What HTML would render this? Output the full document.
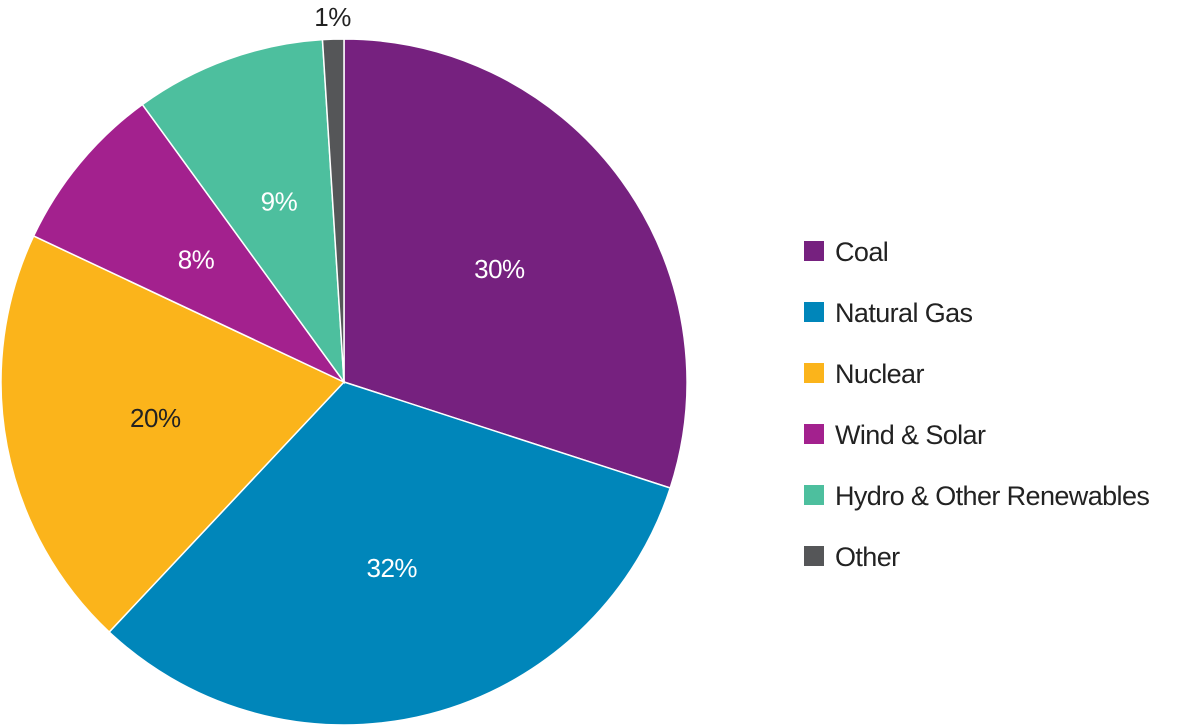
<!DOCTYPE html>
<html><head><meta charset="utf-8"><style>
html,body{margin:0;padding:0;background:#fff;}
svg{display:block;font-family:"Liberation Sans",Arial,sans-serif;}
</style></head><body>
<svg id="chart" width="1200" height="725" viewBox="0 0 1200 725" xmlns="http://www.w3.org/2000/svg"></svg>
<script>
const categories = ["Coal","Natural Gas","Nuclear","Wind & Solar","Hydro & Other Renewables","Other"];
const values = [30, 32, 20, 8, 9, 1];
const valueLabels = ["30%","32%","20%","8%","9%","1%"];
const colors = ["#76217f","#0086ba","#fbb41b","#a3218e","#4dbf9e","#555658"];

const NS = "http://www.w3.org/2000/svg";
const svg = document.getElementById("chart");
const cx = 344, cy = 382, R = 343;
const total = values.reduce((a,b)=>a+b,0);
function pt(angDeg, r){ const a = angDeg*Math.PI/180; return [cx + r*Math.sin(a), cy - r*Math.cos(a)]; }

let start = 0;
values.forEach((v,i)=>{
  const sweep = v/total*360;
  const end = start + sweep;
  const p1 = pt(start,R), p2 = pt(end,R);
  const large = sweep > 180 ? 1 : 0;
  const path = document.createElementNS(NS,"path");
  path.setAttribute("d", `M${cx},${cy} L${p1[0]},${p1[1]} A${R},${R} 0 ${large} 1 ${p2[0]},${p2[1]} Z`);
  path.setAttribute("fill", colors[i]);
  path.setAttribute("stroke", "#fff");
  path.setAttribute("stroke-width", "1.5");
  
  
  svg.appendChild(path);

  const mid = start + sweep/2;
  const small = v < 3;
  const lp = small ? pt(mid, R + 22) : pt(mid, R*0.56);
  const t = document.createElementNS(NS,"text");
  t.setAttribute("x", lp[0]);
  t.setAttribute("y", lp[1] + 9);
  t.setAttribute("text-anchor", "middle");
  t.setAttribute("font-size", "26");
  t.setAttribute("letter-spacing", "-0.5");
  t.setAttribute("fill", (small || i===2) ? "#222" : "#fff");
  t.textContent = valueLabels[i];
  
  
  svg.appendChild(t);
  start = end;
});

categories.forEach((c,i)=>{
  const y = 241 + i*61;
  const g = document.createElementNS(NS,"g");
  
  
  const r = document.createElementNS(NS,"rect");
  r.setAttribute("x", 804); r.setAttribute("y", y);
  r.setAttribute("width", 20); r.setAttribute("height", 20);
  r.setAttribute("fill", colors[i]);
  
  
  g.appendChild(r);
  const t = document.createElementNS(NS,"text");
  t.setAttribute("x", 835); t.setAttribute("y", y + 20);
  t.setAttribute("font-size", "27");
  t.setAttribute("letter-spacing", "-0.6");
  t.setAttribute("fill", "#222");
  t.textContent = c;
  
  
  g.appendChild(t);
  svg.appendChild(g);
});
</script>
</body></html>
